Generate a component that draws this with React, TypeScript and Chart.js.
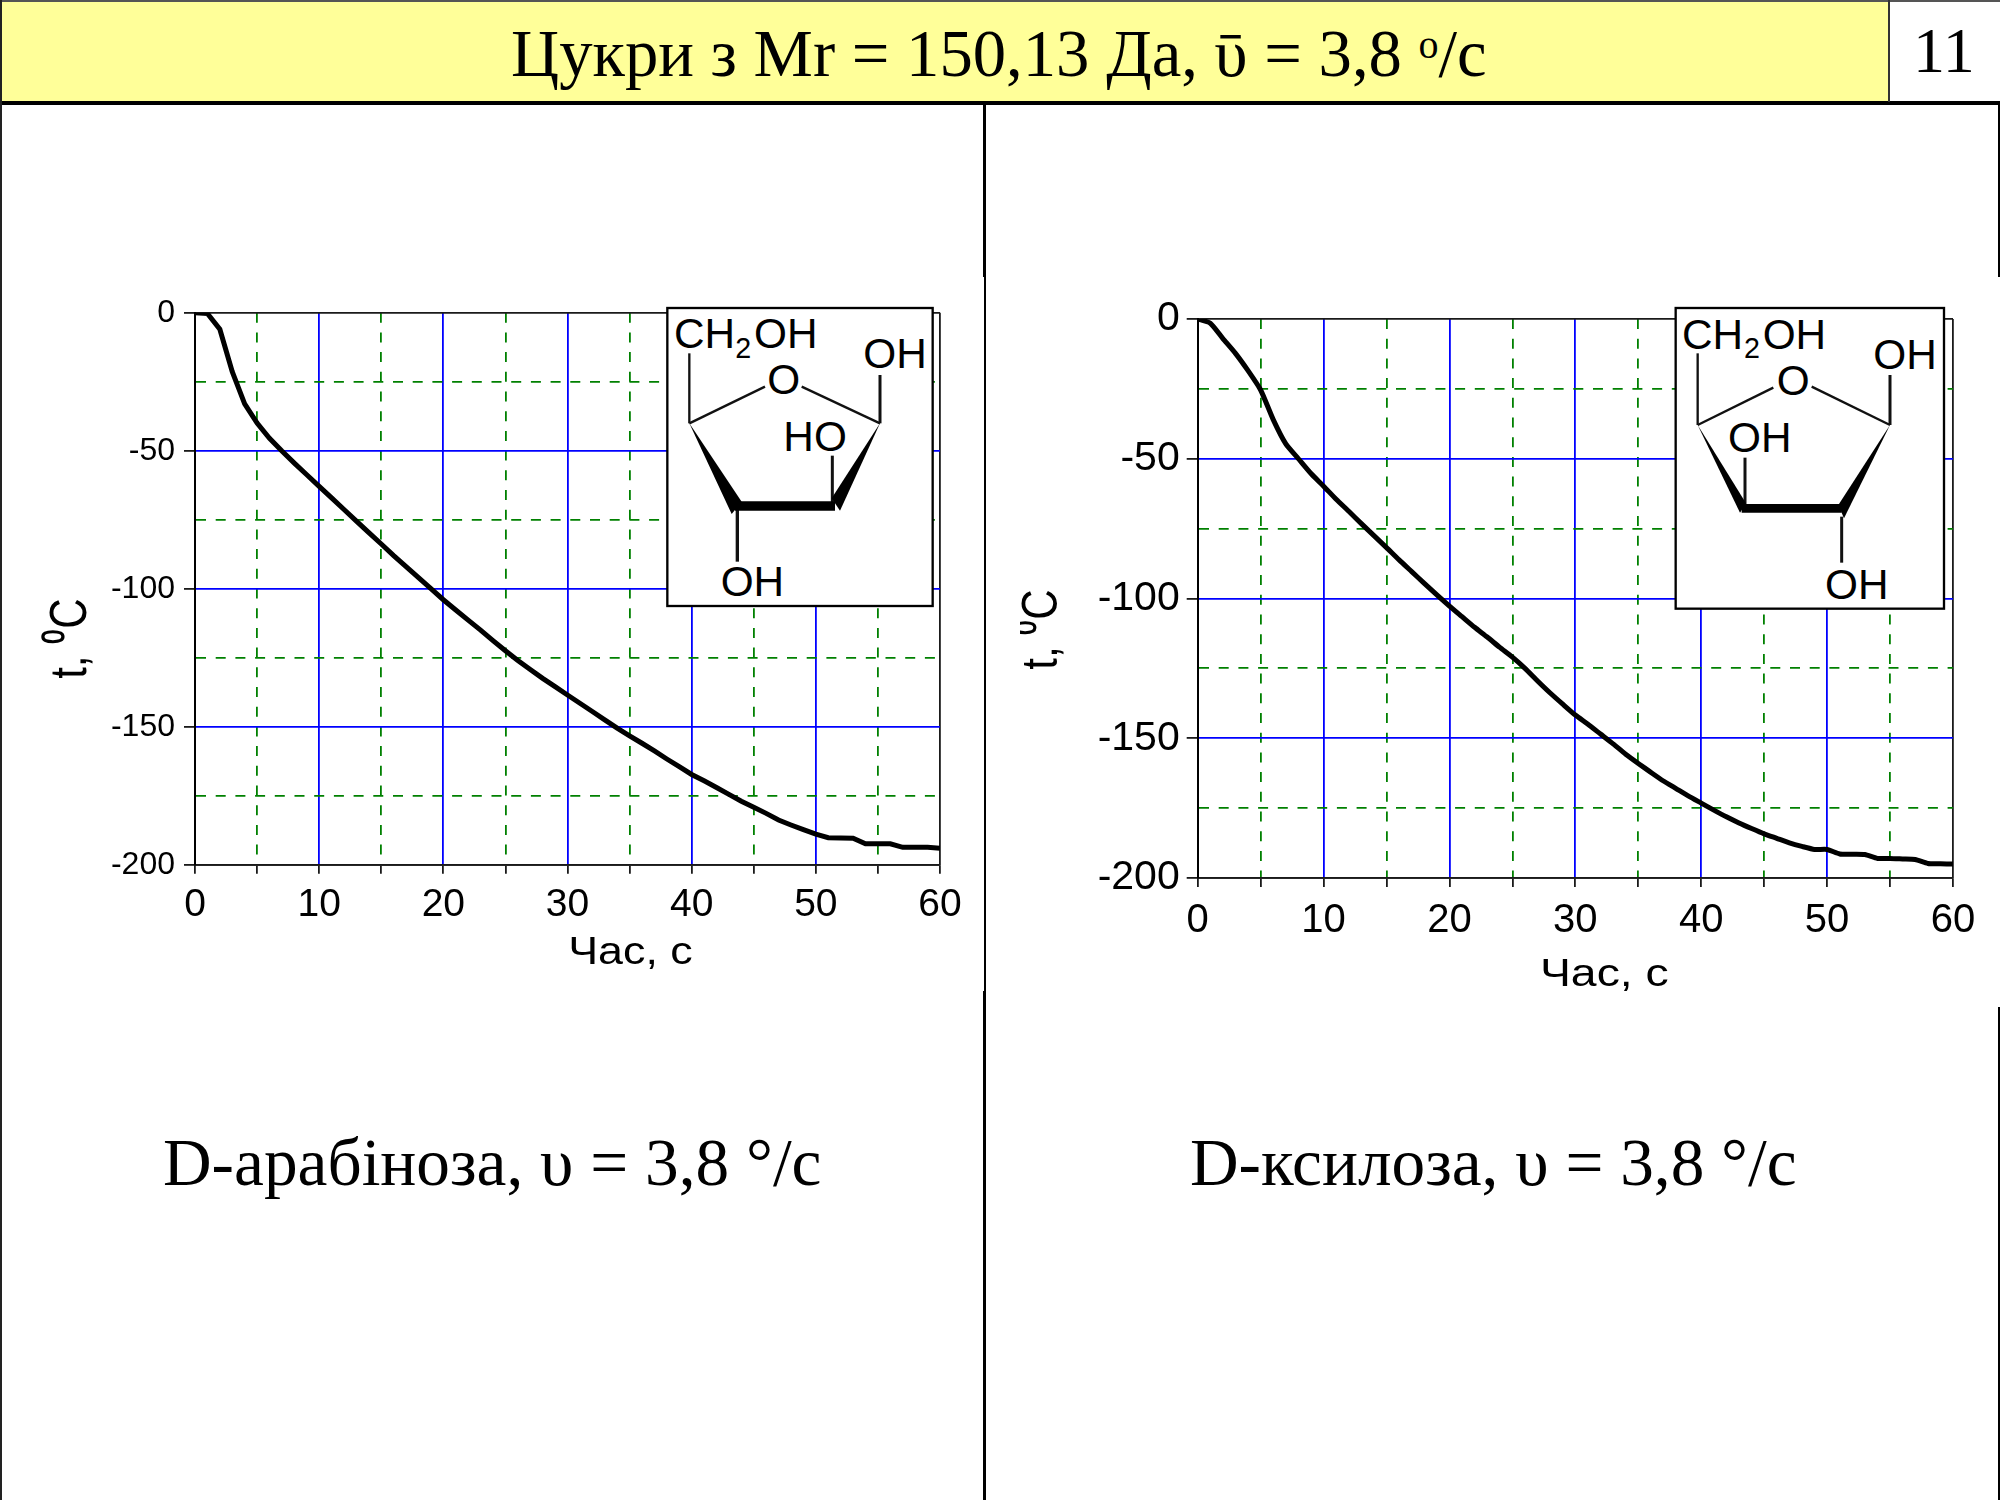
import React, { useEffect, useRef } from "react";
import { Chart, registerables } from "chart.js";

Chart.register(...registerables);

const seconds = [
  0, 1, 2, 3, 4, 5, 6, 7, 8, 9, 10, 11, 12, 13, 14, 15, 16, 17, 18, 19, 20, 21, 22, 23, 24, 25, 26, 27, 28, 29, 30,
  31, 32, 33, 34, 35, 36, 37, 38, 39, 40, 41, 42, 43, 44, 45, 46, 47, 48, 49, 50, 51, 52, 53, 54, 55, 56, 57, 58, 59, 60,
];
const arabinoseTemps = [
  0, -0.3, -6, -21.4, -33, -40, -45.5, -50.1, -54.5, -58.7, -62.9, -67.1, -71.3, -75.5, -79.7, -83.8, -88, -92, -96, -100,
  -104, -107.7, -111.4, -115, -118.8, -122.5, -126, -129.3, -132.5, -135.5, -138.5, -141.5, -144.5, -147.5, -150.5,
  -153.3, -156, -158.8, -161.7, -164.5, -167.3, -169.6, -172, -174.5, -177, -179.2, -181.4, -183.8, -185.6, -187.3,
  -188.9, -190.2, -190.3, -190.4, -192.4, -192.4, -192.4, -193.7, -193.7, -193.7, -194,
];
const xyloseTemps = [
  0, -1.5, -7, -12.3, -18.5, -25.4, -36, -44.7, -50, -55.3, -59.8, -64.5, -68.8, -73.2, -77.5, -81.8, -86.2, -90.4, -94.6,
  -98.7, -102.7, -106.5, -110.3, -113.8, -117.5, -121, -125, -129.5, -133.8, -137.8, -141.7, -145, -148.5, -152,
  -155.7, -159, -162.2, -165.3, -168, -170.7, -173.2, -175.7, -178.1, -180.3, -182.3, -184.2, -185.8, -187.4, -188.7,
  -189.8, -189.8, -191.4, -191.5, -191.6, -193, -193, -193.2, -193.4, -194.8, -194.9, -195,
];
const xAxisLabel = "Час, с";
const yAxisLabel = "t, \u2070C";

const SANS = '"Liberation Sans", Arial, sans-serif';
const SERIF = '"Liberation Serif", "Times New Roman", serif';
const BLUE = "#0000ff";
const GREEN = "#008000";
const DARK = "#1a1a1a";

// Draws the two axis titles at their off-centre positions, slightly stretched as in the source image.
const offsetTitles = {
  id: "offsetTitles",
  afterDraw(chart: any, _args: any, o: any) {
    const { ctx, scales } = chart;
    const { x, y } = scales;
    ctx.save();
    ctx.fillStyle = "#000";
    ctx.textAlign = "center";
    ctx.textBaseline = "alphabetic";
    ctx.font = `${o.xFont}px ${SANS}`;
    ctx.save();
    ctx.translate((x.left + x.right) / 2 + o.xShift, x.top + o.xDrop);
    ctx.scale(o.xStretch, 1);
    ctx.fillText(x.options.title.text, 0, 0);
    ctx.restore();
    ctx.font = `${o.yFont}px ${SANS}`;
    ctx.save();
    ctx.translate(o.yBaselineX, (y.top + y.bottom) / 2 + o.yShift);
    ctx.scale(o.yStretch, 1);
    ctx.rotate(-Math.PI / 2);
    ctx.fillText(y.options.title.text, 0, 0);
    ctx.restore();
    ctx.restore();
  },
};

type CurveProps = {
  temps: number[];
  box: { left: number; top: number; width: number; height: number };
  plot: { left: number; top: number; right: number; bottom: number };
  yTickFont: number;
  xTickFont: number;
  yPad: number;
  xPad: number;
  tension: number;
  titles: any;
};

function Curve({ temps, box, plot, yTickFont, xTickFont, yPad, xPad, tension, titles }: CurveProps) {
  const ref = useRef<HTMLCanvasElement>(null);
  useEffect(() => {
    const lineColor = (v: number, lo: number, hi: number, major: number) =>
      v === lo || v === hi ? DARK : v % major === 0 ? BLUE : GREEN;
    const dash = (v: number, major: number) => (v % major === 0 ? [] : [10, 9.7]);
    const chart = new Chart(ref.current!, {
      type: "line",
      data: {
        labels: seconds,
        datasets: [
          {
            data: temps.map((t, i) => ({ x: seconds[i], y: t })),
            borderColor: "#000",
            borderWidth: 5,
            pointRadius: 0,
            tension,
            fill: false,
          },
        ],
      },
      options: {
        animation: false,
        responsive: false,
        devicePixelRatio: 1,
        layout: {
          autoPadding: false,
          padding: {
            left: 0,
            top: plot.top - box.top,
            right: box.left + box.width - plot.right,
            bottom: 0,
          },
        },
        plugins: { legend: { display: false }, tooltip: { enabled: false }, offsetTitles: titles },
        scales: {
          x: {
            type: "linear",
            min: 0,
            max: 60,
            title: { display: false, text: xAxisLabel },
            afterFit: (s: any) => {
              s.height = box.top + box.height - plot.bottom;
            },
            ticks: {
              stepSize: 5,
              autoSkip: false,
              maxRotation: 0,
              color: "#000",
              padding: xPad,
              font: { family: SANS, size: xTickFont },
              callback: (v: any) => (Number(v) % 10 === 0 ? String(v) : ""),
            },
            grid: {
              lineWidth: 1.8,
              tickLength: 9,
              tickColor: DARK,
              color: (c: any) => lineColor(c.tick?.value ?? 1, 0, 60, 10),
            },
            border: {
              color: DARK,
              width: 1.8,
              dash: (c: any) => dash(c.tick?.value ?? 0, 10),
            },
          },
          y: {
            type: "linear",
            min: -200,
            max: 0,
            title: { display: false, text: yAxisLabel },
            afterFit: (s: any) => {
              s.width = plot.left - box.left;
            },
            ticks: {
              stepSize: 25,
              autoSkip: false,
              color: "#000",
              padding: yPad,
              font: { family: SANS, size: yTickFont },
              callback: (v: any) => (Number(v) % 50 === 0 ? String(v) : ""),
            },
            grid: {
              lineWidth: 1.8,
              tickLength: 11,
              tickColor: (c: any) => (c.tick?.value % 50 === 0 ? DARK : "rgba(0,0,0,0)"),
              color: (c: any) => lineColor(c.tick?.value ?? 1, -200, 0, 50),
            },
            border: {
              color: "#000",
              width: 2,
              dash: (c: any) => dash(c.tick?.value ?? 0, 50),
            },
          },
        },
      } as any,
      plugins: [offsetTitles],
    } as any);
    return () => chart.destroy();
  }, []);
  return (
    <canvas
      ref={ref}
      width={box.width}
      height={box.height}
      style={{ position: "absolute", left: box.left, top: box.top, width: box.width, height: box.height }}
    />
  );
}

const T = ({ x, y, s = 127, children }: any) => (
  <text x={x} y={y} fontSize={s} fontFamily={SANS} fill="#000">
    {children}
  </text>
);
const Bond = ({ x1, y1, x2, y2, w = 7 }: any) => <line x1={x1} y1={y1} x2={x2} y2={y2} stroke="#111" strokeWidth={w} />;

function ArabinoseInset() {
  return (
    <svg viewBox="0 0 900 990" style={{ position: "absolute", left: 650, top: 290, width: 300, height: 330 }}>
      <rect x="52" y="54" width="796" height="894" fill="#fff" stroke="#000" strokeWidth="7" />
      <Bond x1={118} y1={400} x2={118} y2={190} />
      <Bond x1={118} y1={400} x2={345} y2={290} />
      <Bond x1={455} y1={290} x2={690} y2={400} />
      <Bond x1={690} y1={400} x2={690} y2={255} w={9} />
      <Bond x1={547} y1={650} x2={547} y2={497} w={9} />
      <Bond x1={262} y1={650} x2={262} y2={815} w={10} />
      <polygon points="118,400 275,635 245,672" fill="#000" />
      <polygon points="255,634 555,634 555,662 255,662" fill="#000" />
      <polygon points="690,400 570,662 545,625" fill="#000" />
      <T x={72} y={175}>CH</T>
      <T x={256} y={204} s={86}>2</T>
      <T x={312} y={175}>OH</T>
      <T x={352} y={312}>O</T>
      <T x={640} y={235}>OH</T>
      <T x={400} y={482}>HO</T>
      <T x={212} y={918}>OH</T>
    </svg>
  );
}

function XyloseInset() {
  return (
    <svg viewBox="0 0 900 990" style={{ position: "absolute", left: 1660, top: 290, width: 300, height: 330 }}>
      <rect x="47" y="54" width="805" height="902" fill="#fff" stroke="#000" strokeWidth="7" />
      <Bond x1={113} y1={405} x2={113} y2={190} />
      <Bond x1={113} y1={405} x2={340} y2={293} />
      <Bond x1={455} y1={290} x2={690} y2={405} />
      <Bond x1={690} y1={405} x2={690} y2={255} w={9} />
      <Bond x1={255} y1={650} x2={255} y2={503} w={9} />
      <Bond x1={545} y1={680} x2={545} y2={818} w={9} />
      <polygon points="113,405 258,640 240,668" fill="#000" />
      <polygon points="245,642 545,642 545,668 245,668" fill="#000" />
      <polygon points="690,405 535,645 552,685" fill="#000" />
      <T x={66} y={178}>CH</T>
      <T x={252} y={204} s={86}>2</T>
      <T x={308} y={178}>OH</T>
      <T x={350} y={316}>O</T>
      <T x={640} y={238}>OH</T>
      <T x={204} y={486}>OH</T>
      <T x={495} y={928}>OH</T>
    </svg>
  );
}

const rule = (left: number, top: number, width: number, height: number, background = "#000"): React.CSSProperties => ({
  position: "absolute",
  left,
  top,
  width,
  height,
  background,
});

const serifText = (left: number, top: number, size: number): React.CSSProperties => ({
  position: "absolute",
  left,
  top,
  fontFamily: SERIF,
  fontSize: size,
  lineHeight: `${size}px`,
  color: "#000",
  whiteSpace: "pre",
});

export default function App() {
  return (
    <div
      style={{ position: "absolute", left: 0, top: 0, width: 2000, height: 1500, background: "#fff", overflow: "hidden" }}
    >
      <div style={rule(0, 0, 1889, 102, "#ffff99")} />
      <div style={rule(0, 0, 2000, 2, "#555")} />
      <div style={rule(0, 101, 2000, 4)} />
      <div style={rule(1888, 0, 2, 102, "#333")} />
      <div style={rule(0, 0, 2, 1500, "#222")} />
      <div style={rule(983, 104, 3, 173)} />
      <div style={rule(984, 277, 2, 714)} />
      <div style={rule(983, 991, 3, 509)} />
      <div style={rule(1998, 104, 2, 173)} />
      <div style={rule(1998, 1007, 2, 493)} />

      <div style={serifText(511, 12, 66.7)}>
        Цукри з Mr = 150,13 Да, ῡ = 3,8 <span style={{ fontSize: 40, verticalAlign: 18 }}>о</span>/с
      </div>
      <div style={serifText(1913, 19, 64)}>11</div>

      <Curve
        temps={arabinoseTemps}
        box={{ left: 20, top: 240, width: 960, height: 760 }}
        plot={{ left: 195, top: 312.7, right: 940, bottom: 864.7 }}
        yTickFont={32}
        xTickFont={39}
        yPad={9}
        xPad={8}
        tension={0}
        titles={{ xFont: 38, xShift: 63, xDrop: 99.5, xStretch: 1.18, yFont: 42, yShift: 50, yBaselineX: 66, yStretch: 1.25 }}
      />
      <Curve
        temps={xyloseTemps}
        box={{ left: 1020, top: 240, width: 975, height: 780 }}
        plot={{ left: 1197.7, top: 319, right: 1953, bottom: 878 }}
        yTickFont={41}
        xTickFont={40}
        yPad={7}
        xPad={10}
        tension={0.2}
        titles={{ xFont: 38, xShift: 29, xDrop: 107.5, xStretch: 1.22, yFont: 42, yShift: 31, yBaselineX: 37, yStretch: 1.2 }}
      />
      <ArabinoseInset />
      <XyloseInset />

      <div style={serifText(163, 1129, 67.3)}>D-арабіноза, υ = 3,8 °/с</div>
      <div style={serifText(1190, 1129, 67.3)}>D-ксилоза, υ = 3,8 °/с</div>
    </div>
  );
}
